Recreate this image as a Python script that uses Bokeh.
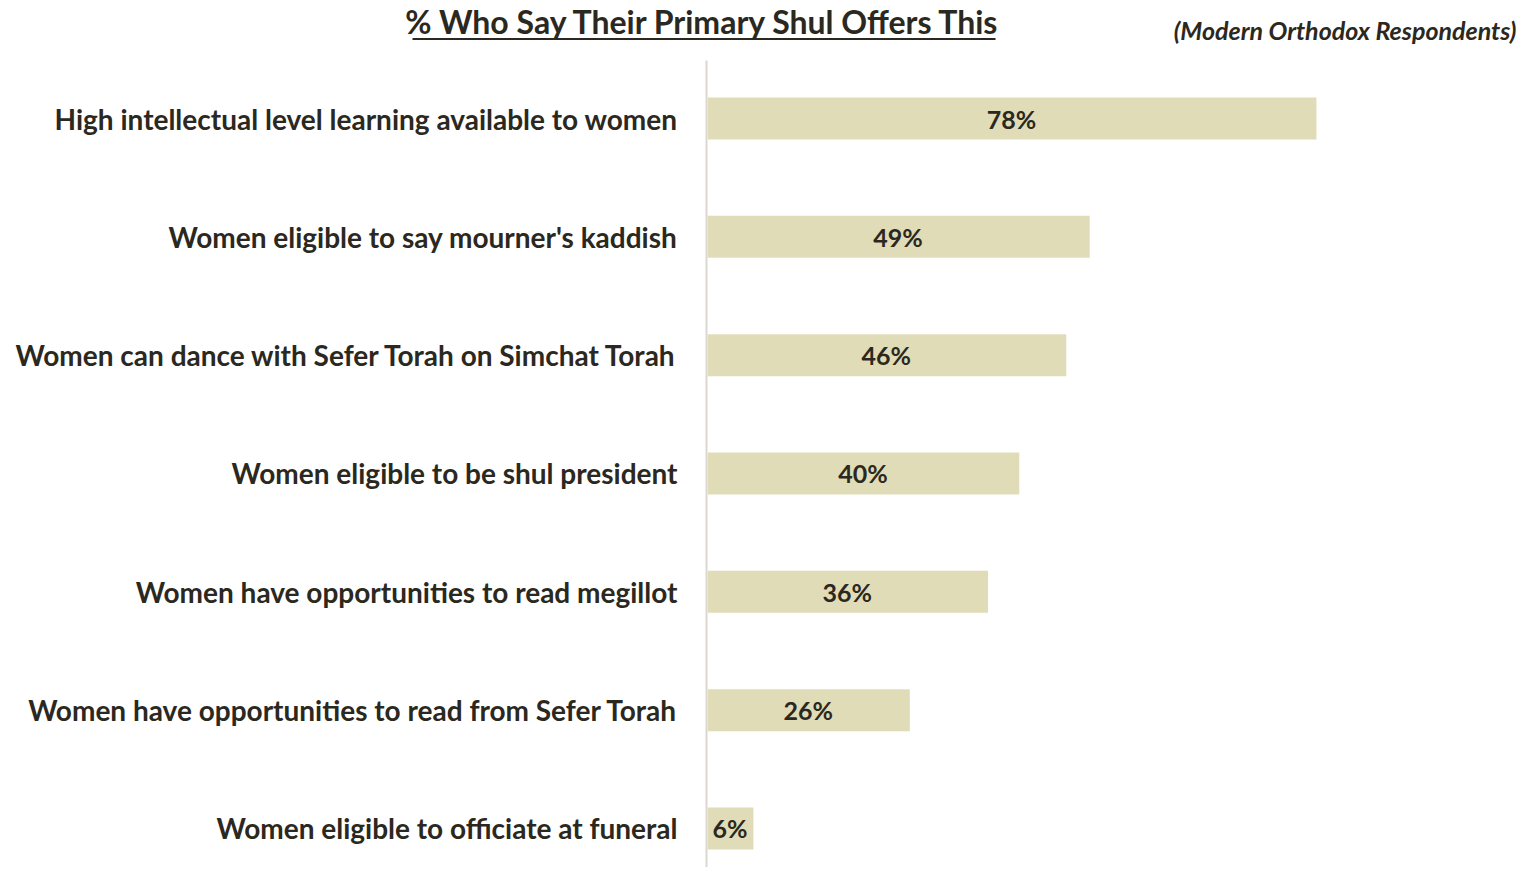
from bokeh.plotting import figure
from bokeh.models import Range1d, Label, ColumnDataSource, BoxAnnotation
from bokeh.core.properties import value
from bokeh.embed import file_html
from bokeh.resources import INLINE

categories = [
    "High intellectual level learning available to women",
    "Women eligible to say mourner's kaddish",
    "Women can dance with Sefer Torah on Simchat Torah",
    "Women eligible to be shul president",
    "Women have opportunities to read megillot",
    "Women have opportunities to read from Sefer Torah",
    "Women eligible to officiate at funeral",
]
values = [78, 49, 46, 40, 36, 26, 6]
title_text = "% Who Say Their Primary Shul Offers This"
subtitle_text = "(Modern Orthodox Respondents)"

W, H = 1519, 867
px_per_pct = 7.82
zero_px = 706
row0_px = 118
row_step = 118.33

x_start = -zero_px / px_per_pct
x_end = (W - zero_px) / px_per_pct
y_top = -row0_px / row_step
y_bot = (H - row0_px) / row_step

p = figure(width=W, height=H, output_backend="svg", toolbar_location=None,
           x_range=Range1d(x_start, x_end), y_range=Range1d(y_bot, y_top),
           min_border=0, outline_line_color=None, background_fill_color="white",
           border_fill_color="white")
p.xaxis.visible = False
p.yaxis.visible = False
p.grid.visible = False

rows = list(range(len(categories)))
src = ColumnDataSource(dict(
    y=rows, v=values, cat=categories,
    lab=[f"{v}%" for v in values],
    mid=[v / 2 for v in values],
))

FONT = value("Lato")
DARK = "#2b2820"

# vertical axis line
p.segment(x0=[0], y0=[(60 - row0_px) / row_step], x1=[0], y1=[y_bot + 1],
          line_color="#dcd8d0", line_width=2)

p.hbar(y="y", left=0.15, right="v", height=0.355, source=src,
       fill_color="#e0dcb8", line_color=None)

p.text(x=0, y="y", text="cat", source=src, x_offset=-29,
       text_align="right", text_baseline="middle", text_font=FONT,
       text_font_style="bold", text_font_size="28px", text_color=DARK)

p.text(x="mid", y="y", text="lab", source=src,
       text_align="center", text_baseline="middle", text_font=FONT,
       text_font_style="bold", text_font_size="25px", text_color=DARK)

title = Label(x=703, y=H - 21, x_units="screen", y_units="screen", text=title_text,
              text_align="center", text_baseline="middle", text_font="Lato",
              text_font_style="bold", text_font_size="32px", text_color=DARK)
p.add_layout(title)
ul = BoxAnnotation(left=412, right=995, bottom=H - 39.5, top=H - 37.5,
                   left_units="screen", right_units="screen",
                   bottom_units="screen", top_units="screen",
                   fill_color=DARK, fill_alpha=1, line_color=None)
p.add_layout(ul)

sub = Label(x=1516, y=H - 29, x_units="screen", y_units="screen", text=subtitle_text,
            text_align="right", text_baseline="middle", text_font="Lato",
            text_font_style="bold italic", text_font_size="25px", text_color=DARK)
p.add_layout(sub)

open("out.html", "w").write(file_html(p, INLINE))
